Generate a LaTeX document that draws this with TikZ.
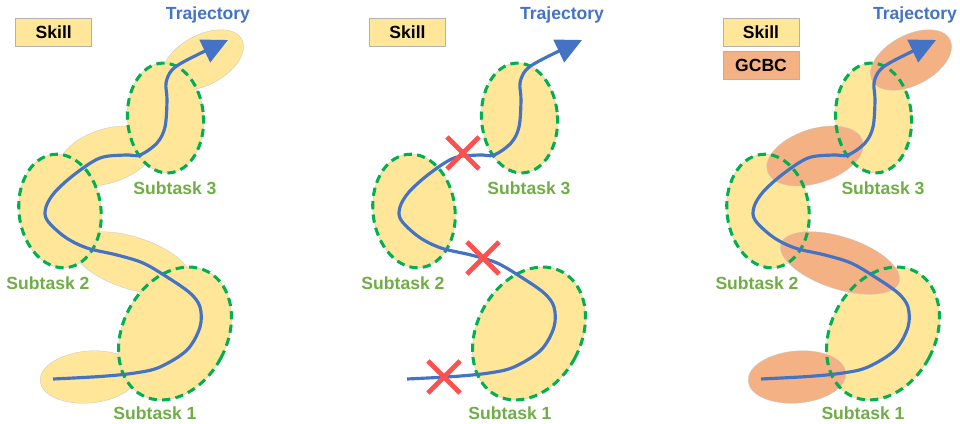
\documentclass[tikz,border=0pt]{standalone}
\usepackage{fontspec}
\setmainfont{Liberation Sans}
\usetikzlibrary{arrows.meta,shapes.misc}

\definecolor{skillfill}{HTML}{FFE699}
\definecolor{gcbcfill}{HTML}{F4B183}
\definecolor{taskgreen}{HTML}{00B050}
\definecolor{labelgreen}{HTML}{70AD47}
\definecolor{trajblue}{HTML}{4472C4}
\definecolor{crossred}{HTML}{FF5050}

\tikzset{
  skillblob/.style={fill=skillfill, draw=black!22, line width=0.3pt},
  gcbcblob/.style={fill=gcbcfill, draw=black!22, line width=0.3pt},
  subtaskring/.style={draw=taskgreen, line width=2.6pt, dash pattern=on 7pt off 4.5pt},
  traj/.style={draw=trajblue, line width=2.7pt, -{Triangle[length=22pt,width=21pt]}},
  sublabel/.style={text=labelgreen, font=\bfseries\fontsize{15}{17}\selectfont},
  trajlabel/.style={text=trajblue, font=\bfseries\fontsize{15}{17}\selectfont},
  legendbox/.style={draw=black!30, line width=0.4pt, minimum width=2.28cm,
    minimum height=0.84cm, inner sep=0pt, font=\bfseries\fontsize{15}{17}\selectfont},
  failmark/.style={cross out, draw=crossred, line width=4pt, minimum size=0.82cm, inner sep=0pt}
}

% the demonstrated trajectory, in the coordinates of the first panel
\newcommand{\trajcurve}{plot[smooth, tension=0.55] coordinates {
  (53,379) (100,376.5) (135,373) (160,367) (187,350) (200,327) (200,307)
  (190,293) (167,277) (143,263) (117,255) (87,248) (65,237) (47,220)
  (46,207) (55,192) (75,174) (100,158) (125,155) (140,155) (157,143)
  (165,127) (167,100) (166,83) (172,70) (187,60) (228,40)}}

\begin{document}
\begin{tikzpicture}[x=0.03cm, y=-0.03cm]
  \useasboundingbox (0,0) rectangle (960,423);

  % Panel 1: skills cover the whole trajectory
  \begin{scope}
    % Skill regions between the subtasks
    \path[skillblob, rotate around={28:(203,60)}] (203,60) ellipse (44 and 25);
    \path[skillblob, rotate around={18:(107,156)}] (107,156) ellipse (50 and 27);
    \path[skillblob, rotate around={-18:(132,263)}] (132,263) ellipse (62 and 26);
    \path[skillblob, rotate around={5:(89,377)}] (89,377) ellipse (49 and 26);
    % Subtask regions
    \path[skillblob, rotate around={4:(165.5,118)}] (165.5,118) ellipse (38 and 55);
    \path[skillblob, rotate around={7:(60,211)}] (60,211) ellipse (41 and 57);
    \path[skillblob, rotate around={-28:(175,333.5)}] (175,333.5) ellipse (52 and 70);
    \draw[subtaskring, rotate around={4:(165.5,118)}] (165.5,118) ellipse (38 and 55);
    \draw[subtaskring, rotate around={7:(60,211)}] (60,211) ellipse (41 and 57);
    \draw[subtaskring, rotate around={-28:(175,333.5)}] (175,333.5) ellipse (52 and 70);

    % Trajectory
    \draw[traj] \trajcurve;

    % Labels
    \node[legendbox, fill=skillfill] (skillA) at (53.7,32) {Skill};
    \node[trajlabel] (trajA) at (208,15) {Trajectory};
    \node[sublabel] (subA3) at (175,188) {Subtask 3};
    \node[sublabel] (subA2) at (48,283) {Subtask 2};
    \node[sublabel] (subA1) at (155,413) {Subtask 1};
  \end{scope}

  % Panel 2: skills only, gaps in between
  \begin{scope}[shift={(354,0)}]
    \path[skillblob, rotate around={4:(165.5,118)}] (165.5,118) ellipse (38 and 55);
    \path[skillblob, rotate around={7:(60,211)}] (60,211) ellipse (41 and 57);
    \path[skillblob, rotate around={-28:(175,333.5)}] (175,333.5) ellipse (52 and 70);
    \draw[subtaskring, rotate around={4:(165.5,118)}] (165.5,118) ellipse (38 and 55);
    \draw[subtaskring, rotate around={7:(60,211)}] (60,211) ellipse (41 and 57);
    \draw[subtaskring, rotate around={-28:(175,333.5)}] (175,333.5) ellipse (52 and 70);

    \draw[traj] \trajcurve;

    % Failures where no skill applies
    \node[failmark] (failB3) at (109,153) {};
    \node[failmark] (failB2) at (129,258) {};
    \node[failmark] (failB1) at (90,377) {};

    \node[legendbox, fill=skillfill] (skillB) at (53.5,32) {Skill};
    \node[trajlabel] (trajB) at (208,15) {Trajectory};
    \node[sublabel] (subB3) at (175,188) {Subtask 3};
    \node[sublabel] (subB2) at (49,283) {Subtask 2};
    \node[sublabel] (subB1) at (156,413) {Subtask 1};
  \end{scope}

  % Panel 3: GCBC fills the gaps between skills
  \begin{scope}[shift={(708,0)}]
    \path[skillblob, rotate around={4:(165.5,118)}] (165.5,118) ellipse (38 and 55);
    \path[skillblob, rotate around={7:(60,211)}] (60,211) ellipse (41 and 57);
    \path[skillblob, rotate around={-28:(175,333.5)}] (175,333.5) ellipse (52 and 70);
    % GCBC regions
    \path[gcbcblob, rotate around={28:(203,60)}] (203,60) ellipse (44 and 25);
    \path[gcbcblob, rotate around={18:(107,156)}] (107,156) ellipse (50 and 27);
    \path[gcbcblob, rotate around={-18:(132,263)}] (132,263) ellipse (62 and 26);
    \path[gcbcblob, rotate around={5:(89,377)}] (89,377) ellipse (49 and 26);
    \draw[subtaskring, rotate around={4:(165.5,118)}] (165.5,118) ellipse (38 and 55);
    \draw[subtaskring, rotate around={7:(60,211)}] (60,211) ellipse (41 and 57);
    \draw[subtaskring, rotate around={-28:(175,333.5)}] (175,333.5) ellipse (52 and 70);

    \draw[traj] \trajcurve;

    \node[legendbox, fill=skillfill] (skillC) at (53,32) {Skill};
    \node[legendbox, fill=gcbcfill] (gcbcC) at (53,65) {GCBC};
    \node[trajlabel] (trajC) at (207,15) {Trajectory};
    \node[sublabel] (subC3) at (175,188) {Subtask 3};
    \node[sublabel] (subC2) at (49,283) {Subtask 2};
    \node[sublabel] (subC1) at (155,413) {Subtask 1};
  \end{scope}
\end{tikzpicture}
\end{document}
